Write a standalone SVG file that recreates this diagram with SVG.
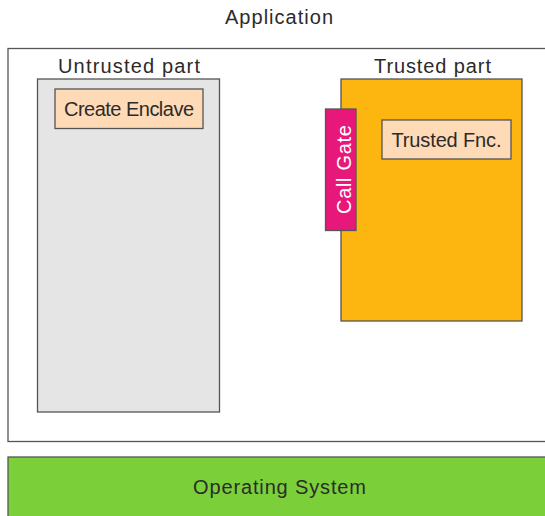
<svg xmlns="http://www.w3.org/2000/svg" width="545" height="516" viewBox="0 0 545 516">
<style>
text{font-family:"Liberation Sans",Arial,sans-serif;font-size:20px;fill:#2b2b2b;text-anchor:middle}
.box{stroke:#555;stroke-width:1.3}
.peach{fill:#ffdab6}
</style>
<rect width="545" height="516" fill="#fff"/>
<g id="application">
<rect class="box" x="8" y="48.5" width="600" height="393" fill="#fff"/>
<text x="279" y="24" textLength="108" lengthAdjust="spacing">Application</text>
</g>
<g id="untrusted">
<rect class="box" x="37.5" y="79" width="182" height="333" fill="#e5e5e5"/>
<text x="129" y="73" textLength="142" lengthAdjust="spacing">Untrusted part</text>
</g>
<g id="create-enclave">
<rect class="box peach" x="55" y="89" width="148" height="39.5"/>
<text x="129" y="116" textLength="130" lengthAdjust="spacing">Create Enclave</text>
</g>
<g id="trusted">
<rect class="box" x="341" y="79" width="181" height="242" fill="#fdb50f"/>
<text x="432.5" y="73" textLength="117" lengthAdjust="spacing">Trusted part</text>
</g>
<g id="trusted-fnc">
<rect class="box peach" x="382" y="120" width="129" height="39"/>
<text x="446.5" y="147" textLength="110" lengthAdjust="spacing">Trusted Fnc.</text>
</g>
<g id="call-gate">
<rect class="box" x="325.5" y="109" width="30.5" height="121.5" fill="#e8187b"/>
<text transform="translate(350.5,169.5) rotate(-90)" x="0" y="0" style="fill:#fff" textLength="89" lengthAdjust="spacing">Call Gate</text>
</g>
<g id="os">
<rect class="box" x="8" y="457" width="600" height="100" fill="#7bd03a"/>
<text x="279.5" y="494" textLength="173" lengthAdjust="spacing">Operating System</text>
</g>
<g id="connectors"/>
</svg>
